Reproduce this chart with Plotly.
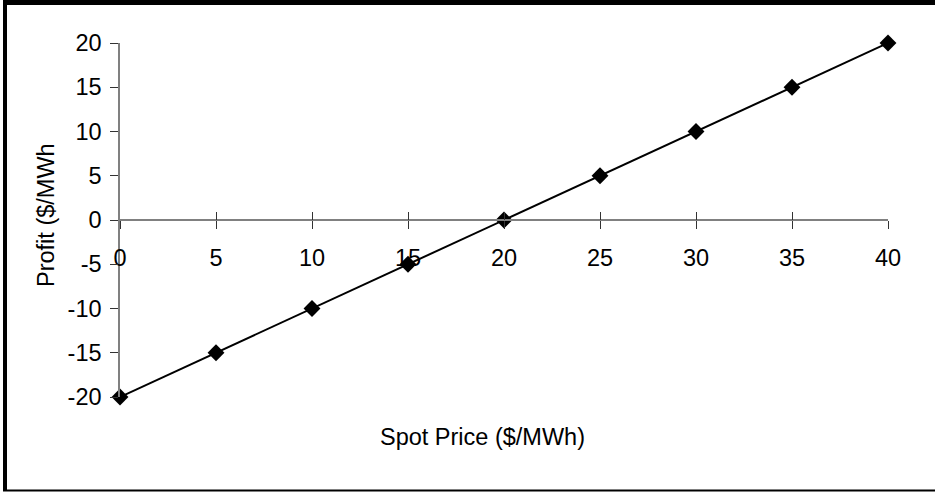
import plotly.graph_objects as go

spot_price = [0, 5, 10, 15, 20, 25, 30, 35, 40]
profit = [-20, -15, -10, -5, 0, 5, 10, 15, 20]
x_ticks = [0, 5, 10, 15, 20, 25, 30, 35, 40]
y_ticks = [-20, -15, -10, -5, 0, 5, 10, 15, 20]
x_title = "Spot Price ($/MWh)"
y_title = "Profit ($/MWh"

W, H = 935, 493
L, R, T, B = 120, 47, 43, 96
pw, ph = W - L - R, H - T - B

def px_x(x):
    return (x - L) / pw

def px_y(y):
    return 1 - (y - T) / ph

FONT = "Liberation Sans, Arial, sans-serif"
FS = 23.5

fig = go.Figure()
fig.add_trace(go.Scatter(
    x=spot_price, y=profit, mode="lines+markers",
    line=dict(color="black", width=2),
    marker=dict(symbol="diamond", size=13, color="black"),
    showlegend=False, cliponaxis=False,
))

fig.update_layout(
    width=W, height=H,
    margin=dict(l=L, r=R, t=T, b=B),
    paper_bgcolor="white", plot_bgcolor="white",
    font=dict(family=FONT, size=FS, color="black"),
    xaxis=dict(
        range=[0, 40], tickvals=x_ticks, ticktext=[str(v) for v in x_ticks],
        showgrid=False, zeroline=False,
        showline=True, linecolor="#808080", linewidth=1.5,
        anchor="free", position=0.5,
        ticks="outside", ticklen=8, tickcolor="#333333", tickwidth=1.2,
        ticklabelstandoff=9,
        tickfont=dict(size=FS),
    ),
    xaxis2=dict(
        range=[0, 40], tickvals=x_ticks, showgrid=False, zeroline=False,
        overlaying="x", anchor="free", position=0.5, side="bottom",
        ticks="inside", ticklen=8, tickcolor="#333333", tickwidth=1.2,
        showticklabels=False, showline=False,
    ),
    yaxis=dict(
        range=[-20, 20], tickvals=y_ticks, ticktext=[str(v) for v in y_ticks],
        showgrid=False, zeroline=False,
        showline=True, linecolor="#808080", linewidth=1.5,
        ticks="outside", ticklen=8, tickcolor="#333333", tickwidth=1.2,
        ticklabelstandoff=4,
        tickfont=dict(size=FS),
    ),
    annotations=[
        dict(text=x_title, xref="paper", yref="paper",
             x=px_x(482), y=px_y(437), showarrow=False,
             xanchor="center", yanchor="middle", font=dict(size=FS)),
        dict(text=y_title, xref="paper", yref="paper",
             x=px_x(46), y=px_y(215), showarrow=False, textangle=-90,
             xanchor="center", yanchor="middle", font=dict(size=FS)),
    ],
    shapes=[
        dict(type="line", xref="paper", yref="paper",
             x0=px_x(5), x1=px_x(5), y0=px_y(0), y1=px_y(491),
             line=dict(color="black", width=4)),
        dict(type="line", xref="paper", yref="paper",
             x0=px_x(3), x1=px_x(935), y0=px_y(2.5), y1=px_y(2.5),
             line=dict(color="black", width=5)),
        dict(type="line", xref="paper", yref="paper",
             x0=px_x(3), x1=px_x(935), y0=px_y(490.5), y1=px_y(490.5),
             line=dict(color="black", width=2)),
    ],
)
# dummy trace so xaxis2 (upward half of the cross ticks) renders
fig.add_trace(go.Scatter(x=[None], y=[None], xaxis="x2", showlegend=False, hoverinfo="skip"))

fig.write_html(
    "out.html",
    config={"displayModeBar": False},
    post_script="document.body.style.margin='0';document.body.style.overflow='hidden';",
)
